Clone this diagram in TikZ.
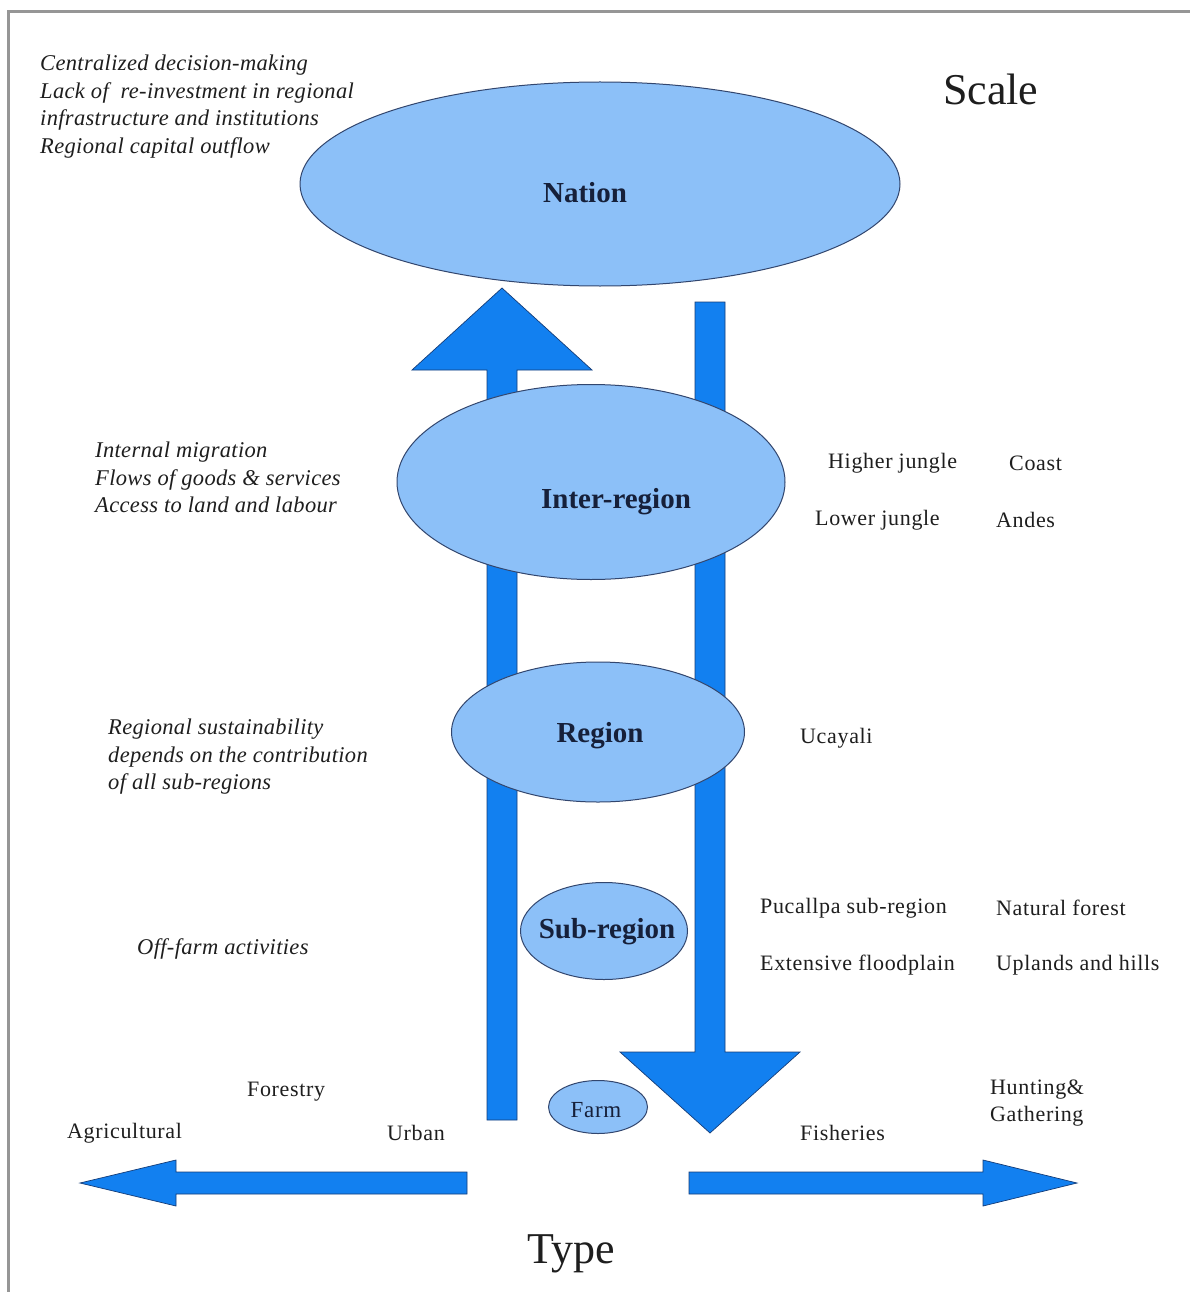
\documentclass[tikz,border=0pt]{standalone}
\usepackage{fontspec}
\setmainfont{Liberation Serif}
\usetikzlibrary{shapes.geometric}
\definecolor{ellfill}{RGB}{140,192,248}
\definecolor{elldraw}{RGB}{50,70,110}
\definecolor{arrowblue}{RGB}{18,128,240}
\definecolor{arrowline}{RGB}{20,60,120}
\definecolor{txt}{RGB}{30,30,30}
\definecolor{lvltxt}{RGB}{22,32,58}
\definecolor{framegray}{RGB}{150,150,150}
\begin{document}
\begin{tikzpicture}[x=1pt,y=-1pt,
  ell/.style={ellipse, draw=elldraw, fill=ellfill, line width=1pt, inner sep=0pt, outer sep=0pt},
  lvl/.style={font=\fontsize{29}{33}\selectfont\bfseries, text=lvltxt, anchor=base, inner sep=0pt},
  itx/.style={font=\fontsize{22.5}{27.5}\selectfont\itshape\addfontfeatures{LetterSpace=1.5}, text=txt, align=left, anchor=north west, inner sep=0pt},
  rtx/.style={font=\fontsize{22}{27}\selectfont\addfontfeatures{LetterSpace=3}, text=txt, anchor=west, inner sep=0pt},
  btx/.style={font=\fontsize{44}{48}\selectfont, text=txt, anchor=base west, inner sep=0pt},
  blk/.style={fill=arrowblue, draw=arrowline, line width=0.7pt, line join=miter}]
\useasboundingbox (0,0) rectangle (1190,1292);
\fill[white] (0,0) rectangle (1190,1292);
% frame
\draw[framegray, line width=3pt] (8,1292) -- (8,12) -- (1190,12);

% up arrow (left)
\filldraw[blk] (487,1120) -- (487,370) -- (412,370) -- (502,288) -- (592,370) -- (517,370) -- (517,1120) -- cycle;
% down arrow (right)
\filldraw[blk] (695,302) -- (695,1052) -- (620,1052) -- (710,1133) -- (800,1052) -- (725,1052) -- (725,302) -- cycle;
% left horizontal arrow
\filldraw[blk] (467,1172) -- (176,1172) -- (176,1160) -- (80,1183) -- (176,1206) -- (176,1194) -- (467,1194) -- cycle;
% right horizontal arrow
\filldraw[blk] (689,1172) -- (983,1172) -- (983,1160) -- (1077,1183) -- (983,1206) -- (983,1194) -- (689,1194) -- cycle;

% ellipses
\node[ell, minimum width=600, minimum height=204] (nation) at (600,184) {};
\node[ell, minimum width=388, minimum height=195] (inter) at (591,482) {};
\node[ell, minimum width=293, minimum height=140] (region) at (598,732) {};
\node[ell, minimum width=167, minimum height=97] (sub) at (604,931) {};
\node[ell, minimum width=99, minimum height=53] (farm) at (598,1107) {};

% level labels
\node[lvl] (nationT) at (585,203) {Nation};
\node[lvl] (interT) at (616,508) {Inter-region};
\node[lvl] (regionT) at (600,742) {Region};
\node[lvl] (subT) at (607,938) {Sub-region};
\node[lvl, font=\fontsize{23}{27}\selectfont\addfontfeatures{LetterSpace=3}] (farmT) at (596,1117) {Farm};

% axis titles
\node[btx] (scale) at (943,105) {Scale};
\node[btx] (type) at (527,1263) {Type};

% left italic notes
\node[itx] (n1) at (40,55) {Centralized decision-making\\Lack of\ \ re-investment in regional\\infrastructure and institutions\\Regional capital outflow};
\node[itx] (n2) at (95,442) {Internal migration\\Flows of goods \& services\\Access to land and labour};
\node[itx] (n3) at (108,719) {Regional sustainability\\depends on the contribution\\of all sub-regions};
\node[itx, anchor=west] (n4) at (137,949) {Off-farm activities};

% right labels
\node[rtx] (hj) at (828,463) {Higher jungle};
\node[rtx] (coast) at (1009,463) {Coast};
\node[rtx] (lj) at (815,520) {Lower jungle};
\node[rtx] (andes) at (996,520) {Andes};
\node[rtx] (ucayali) at (800,738) {Ucayali};
\node[rtx] (puc) at (760,908) {Pucallpa sub-region};
\node[rtx] (natf) at (996,908) {Natural forest};
\node[rtx] (extf) at (760,965) {Extensive floodplain};
\node[rtx] (uph) at (996,965) {Uplands and hills};

% type labels
\node[rtx] (forestry) at (247,1092) {Forestry};
\node[rtx] (agri) at (67,1133) {Agricultural};
\node[rtx] (urban) at (387,1133) {Urban};
\node[rtx] (fish) at (800,1133) {Fisheries};
\node[rtx, align=left, anchor=north west] (hunt) at (990,1080) {Hunting\&\\Gathering};
\end{tikzpicture}
\end{document}
